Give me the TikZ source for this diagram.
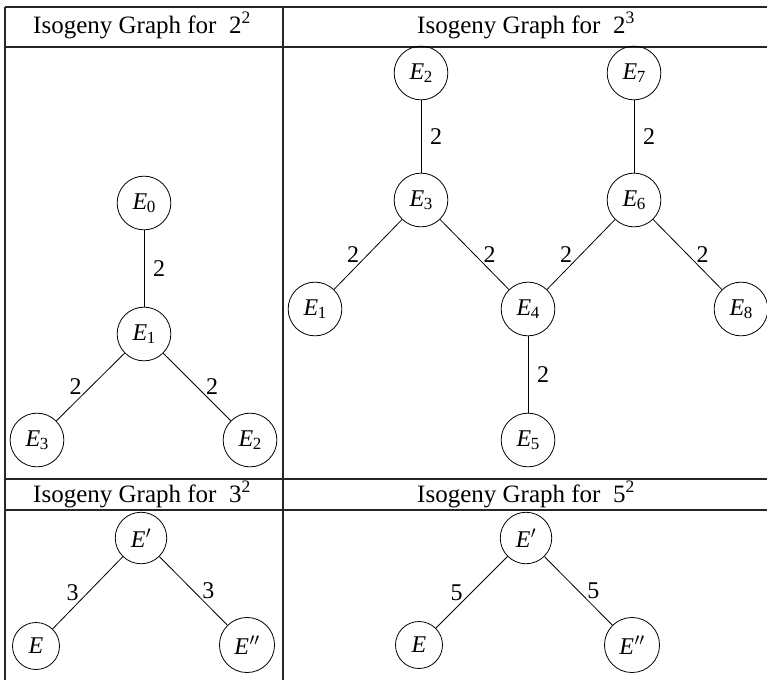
\documentclass[tikz,border=0pt]{standalone}
\usepackage{fontspec}
\setmainfont{Liberation Serif}
\newcommand{\Es}[1]{\textit{E}\kern-0.5pt\raisebox{-3.5pt}{\fontsize{17}{17}\selectfont #1}}
\newcommand{\Ep}{\textit{E}\kern0.5pt$'$}
\newcommand{\Epp}{\textit{E}\kern0.5pt$''$}
\begin{document}
\begin{tikzpicture}[x=1pt,y=-1pt,
  tbl/.style={line width=1.2pt, draw=black!85},
  st/.style={circle, draw, line width=0.8pt, inner sep=8.5pt, minimum size=47pt, font=\fontsize{24}{28}\selectfont},
  edg/.style={line width=0.8pt},
  lbl/.style={font=\fontsize{24}{28}\selectfont, inner sep=0pt, outer sep=9pt},
  hdr/.style={anchor=base, inner sep=0pt, font=\fontsize{25}{29}\selectfont}]
\useasboundingbox (0,0) rectangle (767,680);
% table
\draw[tbl] (5,7) -- (767,7);
\draw[tbl] (5,47) -- (767,47);
\draw[tbl] (5,479) -- (767,479);
\draw[tbl] (5,510) -- (767,510);
\draw[tbl] (5,7) -- (5,680);
\draw[tbl] (283,7) -- (283,680);
% headers
\node[hdr] (h1) at (142,33) {Isogeny Graph for\hspace{0.5em}2\textsuperscript{2}};
\node[hdr] (h2) at (526,33) {Isogeny Graph for\hspace{0.5em}2\textsuperscript{3}};
\node[hdr] (h3) at (142,502) {Isogeny Graph for\hspace{0.5em}3\textsuperscript{2}};
\node[hdr] (h4) at (526,502) {Isogeny Graph for\hspace{0.5em}5\textsuperscript{2}};
% graph 2^2
\node[st] (a0) at (144,203) {\Es{0}};
\node[st] (a1) at (144,334) {\Es{1}};
\node[st] (a3) at (37,440) {\Es{3}};
\node[st] (a2) at (250,440) {\Es{2}};
\draw[edg] (a0) -- node[lbl,right]{2} (a1);
\draw[edg] (a1) -- node[lbl,left]{2} (a3);
\draw[edg] (a1) -- node[lbl,right]{2} (a2);
% graph 2^3
\node[st] (b2) at (421,73) {\Es{2}};
\node[st] (b3) at (421,200) {\Es{3}};
\node[st] (b1) at (315,309) {\Es{1}};
\node[st] (b4) at (528,309) {\Es{4}};
\node[st] (b5) at (528,440) {\Es{5}};
\node[st] (b7) at (634,73) {\Es{7}};
\node[st] (b6) at (634,200) {\Es{6}};
\node[st] (b8) at (741,309) {\Es{8}};
\draw[edg] (b2) -- node[lbl,right]{2} (b3);
\draw[edg] (b3) -- node[lbl,left]{2} (b1);
\draw[edg] (b3) -- node[lbl,right]{2} (b4);
\draw[edg] (b4) -- node[lbl,right]{2} (b5);
\draw[edg] (b7) -- node[lbl,right]{2} (b6);
\draw[edg] (b6) -- node[lbl,left]{2} (b4);
\draw[edg] (b6) -- node[lbl,right]{2} (b8);
% graph 3^2
\node[st] (c1) at (141,538) {\Ep};
\node[st] (c0) at (36,646) {\textit{E}};
\node[st] (c2) at (247,645) {\Epp};
\draw[edg] (c1) -- node[lbl,left]{3} (c0);
\draw[edg] (c1) -- node[lbl,right]{3} (c2);
% graph 5^2
\node[st] (d1) at (526,538) {\Ep};
\node[st] (d0) at (419,645) {\textit{E}};
\node[st] (d2) at (632,645) {\Epp};
\draw[edg] (d1) -- node[lbl,left]{5} (d0);
\draw[edg] (d1) -- node[lbl,right]{5} (d2);
\end{tikzpicture}
\end{document}
